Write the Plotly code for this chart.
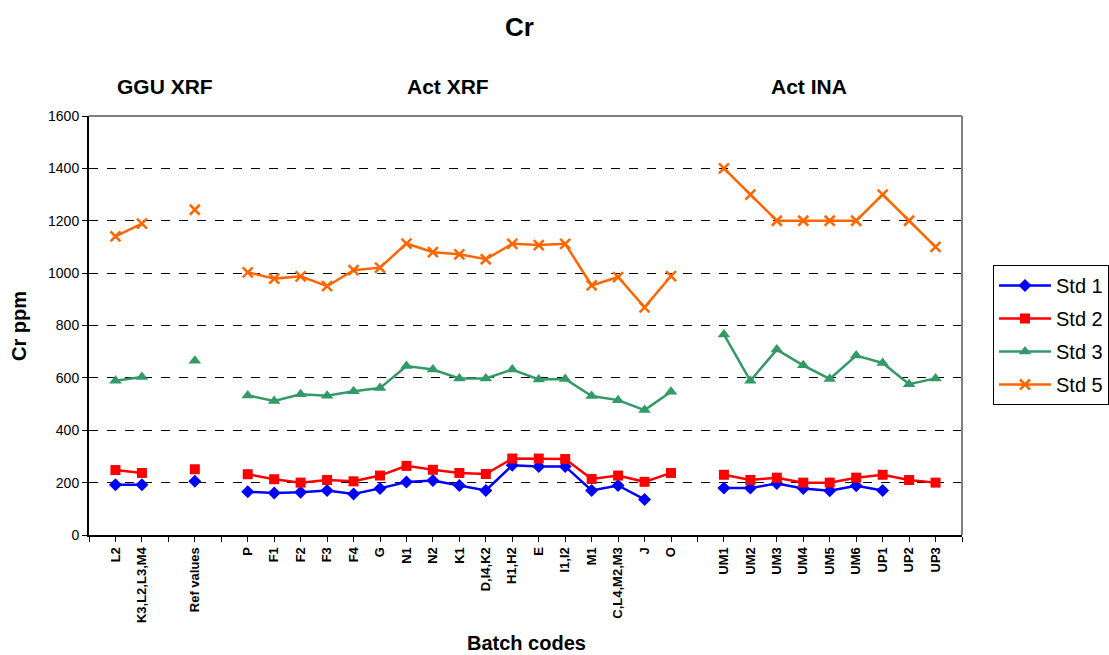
import plotly.graph_objects as go

categories = ["", "L2", "K3,L2,L3,M4", "", "Ref values", "",
              "P", "F1", "F2", "F3", "F4", "G", "N1", "N2", "K1", "D,I4,K2",
              "H1,H2", "E", "I1,I2", "M1", "C,L4,M2,M3", "J", "O", "",
              "UM1", "UM2", "UM3", "UM4", "UM5", "UM6", "UP1", "UP2", "UP3", ""]

N = None
std1 = [N, 192, 192, N, 205, N,
        165, 160, 163, 170, 157, 178, 202, 208, 189, 170,
        266, 262, 262, 170, 189, 136, N, N,
        179, 179, 197, 178, 169, 188, 170, N, N, N]
std2 = [N, 248, 237, N, 251, N,
        232, 213, 200, 210, 205, 227, 264, 249, 237, 233,
        292, 292, 290, 214, 227, 203, 237, N,
        230, 210, 219, 200, 200, 219, 230, 210, 200, N]
std3 = [N, 589, 603, N, 665, N,
        533, 512, 537, 532, 549, 561, 645, 632, 598, 598,
        632, 594, 596, 531, 515, 477, 547, N,
        766, 589, 708, 648, 596, 685, 657, 576, 598, N]
std5 = [N, 1140, 1189, N, 1242, N,
        1003, 979, 988, 950, 1011, 1021, 1113, 1080, 1072, 1053,
        1112, 1107, 1112, 953, 985, 869, 989, N,
        1400, 1300, 1200, 1200, 1200, 1200, 1300, 1200, 1100, N]

series_names = ["Std 1", "Std 2", "Std 3", "Std 5"]
group_labels = ["GGU XRF", "Act XRF", "Act INA"]
group_pos = [165, 448, 809]  # pixel centres (converted below)
y_ticks = [0, 200, 400, 600, 800, 1000, 1200, 1400, 1600]

x = list(range(len(categories)))

L, R, T, B = 89, 962, 116, 535
W, H = 1109, 655
PW, PH = R - L, B - T

styles = [
    dict(color="#0000FF", symbol="diamond", size=10, lw=0),
    dict(color="#FF0000", symbol="square", size=10, lw=0),
    dict(color="#339966", symbol="triangle-up", size=11, lw=0),
    dict(color="#FF6600", symbol="x-thin", size=10, lw=2.5),
]

fig = go.Figure()
for i, (name, vals, st) in enumerate(zip(series_names, [std1, std2, std3, std5], styles)):
    marker = dict(symbol=st["symbol"], size=st["size"], color=st["color"])
    if st["lw"]:
        marker["line"] = dict(color=st["color"], width=st["lw"])
    fig.add_trace(go.Scatter(
        x=x, y=vals, name=name, mode="lines+markers",
        line=dict(color=st["color"], width=2.5),
        marker=marker, connectgaps=False, legendgroup=name,
    ))

# crossing y ticks (inside part)
fig.add_trace(go.Scatter(x=[0], y=[None], yaxis="y2", showlegend=False, hoverinfo="skip"))

font = "Liberation Sans, Arial, sans-serif"
fig.update_layout(
    width=W, height=H,
    margin=dict(l=L, r=W - R, t=T, b=H - B, autoexpand=False),
    paper_bgcolor="white", plot_bgcolor="white",
    font=dict(family=font, color="black"),
    showlegend=True,
    legend=dict(
        x=(993 - L) / PW, y=(B - 265) / PH, xanchor="left", yanchor="top",
        bordercolor="black", borderwidth=1, bgcolor="white",
        font=dict(size=20, family=font), tracegroupgap=4, itemwidth=52,
        traceorder="grouped",
    ),
    xaxis=dict(
        range=[0, len(categories) - 1], automargin=False,
        tickmode="array", tickvals=x,
        ticktext=["<b>%s</b>" % c for c in categories],
        tickangle=-90, tickfont=dict(size=13, family=font),
        ticks="outside", ticklen=5, tickcolor="black",
        showline=True, linecolor="black", linewidth=2,
        showgrid=False, zeroline=False,
    ),
    yaxis=dict(
        range=[0, 1600], tickvals=y_ticks, automargin=False,
        tickfont=dict(size=14), ticks="outside", ticklen=5, tickcolor="black",
        showline=True, linecolor="black", linewidth=2,
        showgrid=True, gridcolor="black", griddash="dash", gridwidth=1,
        zeroline=False,
    ),
    yaxis2=dict(
        range=[0, 1600], tickvals=y_ticks, overlaying="y", side="left",
        ticks="inside", ticklen=5, tickcolor="black", showticklabels=False,
        showgrid=False, zeroline=False, showline=False, automargin=False,
    ),
)

# title and axis titles as annotations
fig.add_annotation(text="<b>Cr</b>", xref="paper", yref="paper",
                   x=(519 - L) / PW, y=(B - 27) / PH, showarrow=False,
                   font=dict(size=26), xanchor="center", yanchor="middle")
fig.add_annotation(text="<b>Cr ppm</b>", xref="paper", yref="paper",
                   x=(19 - L) / PW, y=(B - 326) / PH, showarrow=False, textangle=-90,
                   font=dict(size=20), xanchor="center", yanchor="middle")
fig.add_annotation(text="<b>Batch codes</b>", xref="paper", yref="paper",
                   x=(526 - L) / PW, y=(B - 643) / PH, showarrow=False,
                   font=dict(size=20), xanchor="center", yanchor="middle")

# gray top and right plot borders
fig.add_shape(type="line", xref="paper", yref="paper", x0=0, x1=1, y0=1, y1=1,
              line=dict(color="#808080", width=2))
fig.add_shape(type="line", xref="paper", yref="paper", x0=1, x1=1, y0=0, y1=1,
              line=dict(color="#808080", width=2))

for lab, px in zip(group_labels, group_pos):
    fig.add_annotation(text="<b>%s</b>" % lab, xref="paper", yref="paper",
                       x=(px - L) / PW, y=(B - 86) / PH,
                       showarrow=False, font=dict(size=21), xanchor="center", yanchor="middle")

fig.write_html("out.html", config={"displayModeBar": False},
               post_script="document.body.style.margin='0';document.body.style.overflow='hidden';")
